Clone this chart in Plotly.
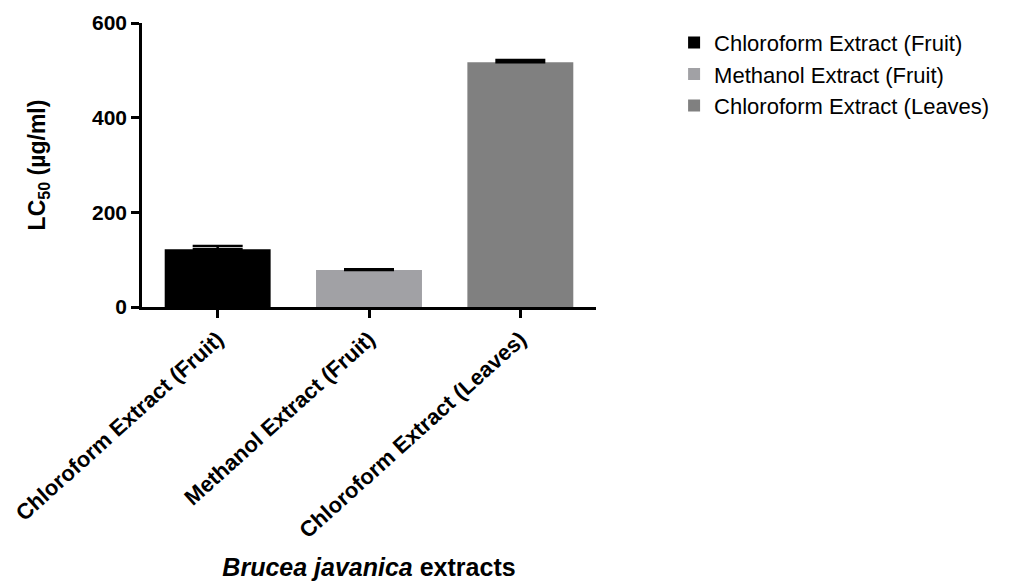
import plotly.graph_objects as go

categories = ["Chloroform Extract (Fruit)", "Methanol Extract (Fruit)", "Chloroform Extract (Leaves)"]
lc50 = [122, 78, 517]
errors = [7, 2, 5]
colors = ["#000000", "#a1a1a5", "#808080"]

fig = go.Figure()
for cat, v, e, c in zip(categories, lc50, errors, colors):
    fig.add_trace(go.Bar(
        x=[cat], y=[v], name=cat, marker=dict(color=c, line=dict(width=0)),
        width=0.7,
        error_y=dict(type="data", array=[e], arrayminus=[0], symmetric=False,
                     color="#000000", thickness=2.5, width=25),
    ))

font_family = "Liberation Sans, Arial, sans-serif"
fig.update_layout(
    width=1016, height=573,
    paper_bgcolor="white", plot_bgcolor="white",
    barmode="overlay",
    margin=dict(l=134, r=428, t=15, b=274, autoexpand=False),
    font=dict(family=font_family, color="black"),
    showlegend=True,
    legend=dict(x=1.172, y=1.005, xanchor="left", yanchor="top",
                font=dict(size=22, family=font_family, color="black"),
                itemsizing="constant", tracegroupgap=0, bgcolor="rgba(0,0,0,0)"),
    xaxis=dict(
        type="category", range=[-0.5, 2.5], automargin=False,
        showline=True, linecolor="black", linewidth=2.5,
        ticks="outside", ticklen=8, tickwidth=2.5, tickcolor="black",
        tickangle=-42, tickfont=dict(size=22, family=font_family, color="black", weight="bold"),
        showgrid=False, zeroline=False,
        title=dict(text="<i>Brucea javanica</i> extracts", standoff=18,
                   font=dict(size=25, family=font_family, color="black", weight="bold")),
    ),
    yaxis=dict(
        range=[0, 600], tickvals=[0, 200, 400, 600], automargin=False,
        showline=True, linecolor="black", linewidth=2.5,
        ticks="outside", ticklen=8, tickwidth=2.5, tickcolor="black",
        tickfont=dict(size=21, family=font_family, color="black", weight="bold"),
        showgrid=False, zeroline=False,
        title=dict(text="LC<sub>50</sub> (µg/ml)", standoff=40,
                   font=dict(size=23, family=font_family, color="black", weight="bold")),
    ),
)

fig.write_html("out.html")
